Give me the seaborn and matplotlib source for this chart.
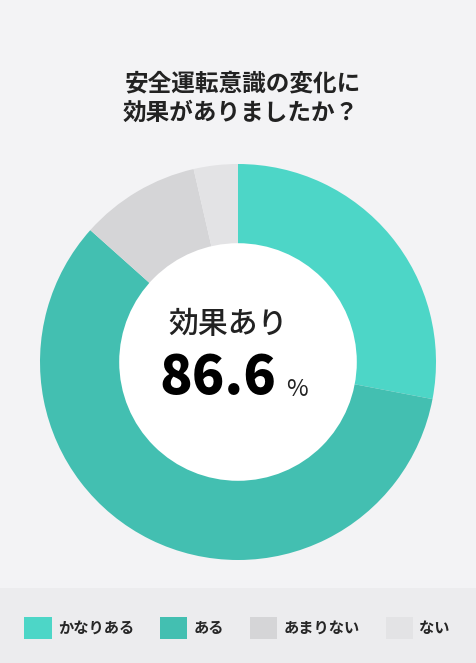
import matplotlib
matplotlib.use("Agg")
import matplotlib.pyplot as plt
import seaborn as sns
from matplotlib.patches import Rectangle, Circle

# data
categories = ["かなりある", "ある", "あまりない", "ない"]
shares = [28.0, 58.6, 9.8, 3.6]
colors = ["#4dd6c7", "#43bfb1", "#d5d5d7", "#e3e3e5"]
title_lines = ["安全運転意識の変化に", "効果がありましたか？"]
center_label = "効果あり"
center_value = "86.6"

sns.set_theme(style="white", rc={"figure.facecolor": "#f3f3f5", "axes.facecolor": "#f3f3f5"})
plt.rcParams["font.family"] = ["Noto Sans CJK JP", "DejaVu Sans"]

W, H = 477, 663
fig = plt.figure(figsize=(W / 100, H / 100), dpi=100)

# legend band at the bottom
fig.patches.append(Rectangle((0, 0), 1, 75 / H, transform=fig.transFigure,
                             facecolor="#ececee", edgecolor="none", zorder=0))

# donut
cx, cy, r = 238, 362, 198
ax = fig.add_axes([(cx - r) / W, (H - cy - r) / H, 2 * r / W, 2 * r / H])
wedges, _ = ax.pie(shares, colors=colors, startangle=90, counterclock=False,
                   radius=1, wedgeprops=dict(linewidth=0, width=1.0))
ax.add_patch(Circle((0, 0), 0.6, facecolor="white", edgecolor="none", zorder=3))
ax.set_xlim(-1, 1)
ax.set_ylim(-1, 1)
ax.set_aspect("equal")
ax.axis("off")

ax.text(-0.05, 0.19, center_label, ha="center", va="center", fontsize=21.5,
        fontweight="medium", color="#222222", zorder=4)
ax.text(-0.1, -0.085, center_value, ha="center", va="center", fontsize=38.5,
        fontweight="black", color="#000000", zorder=4)
ax.text(0.30, -0.14, "%", ha="center", va="center", fontsize=17,
        color="#222222", zorder=4)

# title
fig.text(243 / W, 1 - 83 / H, title_lines[0], ha="center", va="center",
         fontsize=17, fontweight="bold", color="#222222")
fig.text(241 / W, 1 - 113 / H, title_lines[1], ha="center", va="center",
         fontsize=17, fontweight="bold", color="#222222")

leg = fig.legend(wedges, categories, loc="center", bbox_to_anchor=(237 / W, 1 - 628 / H),
                 ncol=4, frameon=False, handlelength=1.8, handleheight=1.8,
                 handletextpad=0.4, columnspacing=1.7, prop={"weight": "bold", "size": 11})

fig.savefig("out.png", dpi=100, facecolor=fig.get_facecolor())
